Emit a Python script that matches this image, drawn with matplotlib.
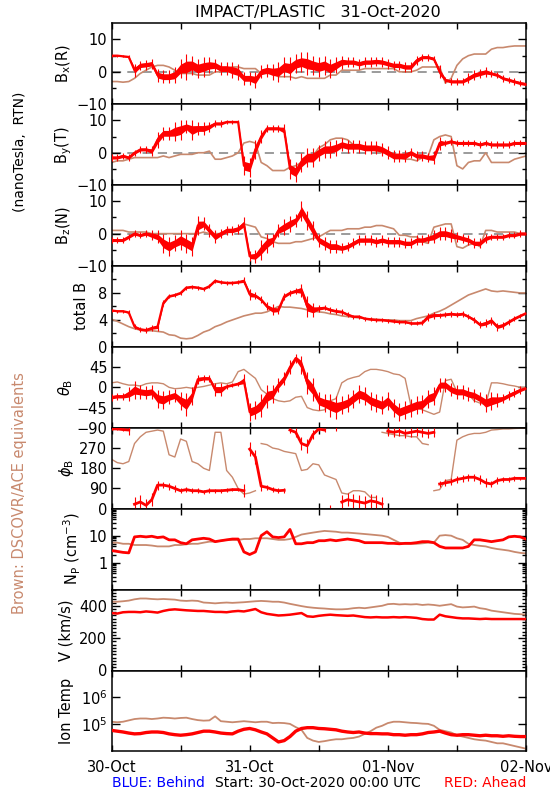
import numpy as np
import matplotlib
matplotlib.use('Agg')
import matplotlib.pyplot as plt
from matplotlib.ticker import FixedLocator, MultipleLocator, LogLocator, NullFormatter, NullLocator

# ---------------- data (hourly, hours since 30-Oct-2020 00:00 UTC) ----------------
hours = np.arange(73)

bx_red = [5.0, 5.0, 4.8, 4.6, 0.5, 2.0, 2.2, 2.5, -1.0, -1.5, -1.5, -1.0, 1.0, 1.5, 2.0, 1.0, 1.5, 2.0, 2.0, 1.0,
          1.0, 0.5, 0.0, -2.0, -2.0, -2.5, 0.0, 0.5, 0.0, 0.0, 1.5, 1.0, 2.5, 3.0, 2.5, 2.0, 1.5, 2.0, 1.0, 2.0,
          3.0, 3.0, 3.0, 2.5, 3.0, 3.0, 3.2, 3.0, 2.5, 2.0, 2.0, 1.5, 1.5, 3.5, 4.5, 4.5, 4.0, 0.0, -2.5, -3.0,
          -3.0, -3.0, -2.0, -1.0, -0.5, 0.0, -0.5, -1.0, -2.0, -2.5, -3.0, -3.5, -3.8]
bx_red_spread = [0.3, 0.3, 0.3, 0.5, 2, 1.5, 1.5, 1.5, 2, 2, 2, 2.5, 3, 4, 3, 3, 3, 2.5, 2, 2,
                 2, 2.5, 2.5, 2, 2, 2.5, 2, 2, 2.5, 3, 3, 3.5, 3, 3, 3.5, 3, 3, 3, 3, 2.5,
                 2, 1.5, 1.5, 1.5, 1.5, 1.5, 1.5, 1.5, 1.5, 1.5, 1.5, 1.5, 1.5, 1.5, 1, 1, 1, 2, 1, 1,
                 1, 1, 1.5, 1.5, 1.5, 1.5, 1, 1, 1, 1, 1, 1, 1]
bx_brown = [-3, -3, -3.2, -3, -2, -0.5, 0.5, 1.5, 2, 2, 1.5, 0.5, -0.5, -0.5, -0.5, -1, -1, -1, 0, 0,
            1, 1.5, 1.5, 1, 1, 1, -0.5, -0.5, -0.5, -1.5, -1.5, -1.5, -2, -1.5, -2, -2, -2, -2, -1, -1,
            0.5, 0.5, 0.5, 0.5, 1, 1, 1, 1, 1, 1, 0, 0, 0, 0.5, 1.5, 1.5, 1.5, 1.5, -3.5, -2,
            2, 4, 5, 5.5, 5.5, 5.5, 7, 7.5, 7.5, 7.8, 8, 8, 8]

by_red = [-1.5, -1.5, -1.0, -1.5, 0, 1, 1, 0.5, 4, 6, 6, 6.5, 7, 8, 7, 7.5, 7.5, 8, 9, 9,
          9.5, 9.5, 9.5, -4, -4.5, 1, 5, 7.5, 7.5, 7.5, 7, -5, -6, -3, -1.5, -1.5, 0, 1, 1, 1.5,
          2.5, 2, 2, 2, 1.5, 1.5, 1.5, 1, 0, -1, -1, -1, 0, -1, -1, -1.5, -1.5, 3, 3, 3.5,
          3, 3, 3, 3, 2.5, 3, 2.5, 2.5, 2.5, 2.5, 3, 3, 3]
by_red_spread = [1, 1, 1, 1, 1, 1, 1, 1.5, 2.5, 2, 2, 3, 3, 2, 3, 2, 2, 1.5, 1, 1,
                 0.5, 0.5, 0.5, 3, 3, 3, 2, 1, 1, 1, 2, 3, 3, 3, 3, 3, 2.5, 2.5, 2.5, 2.5,
                 2, 2, 2, 2, 2, 2, 2, 2, 2, 2, 2, 2, 1.5, 1.5, 1.5, 1.5, 2, 2, 1, 1,
                 1, 1, 1, 1, 1, 1, 1, 1, 1, 1, 1, 1, 1]
by_brown = [-3, -2.5, -2.5, -2, -1.5, -1.5, -1.5, -1.5, -1.5, -1, -1.5, -1, -0.5, -0.5, -0.5, 0, 0, 0.5, -2, -2,
            -1.5, -1, 0, 3, 3.5, 3, -3, -4, -5.5, -5.5, -5.5, -4.5, -4, -3, -1.5, -1, 1.5, 2.5, 4, 4.5,
            4.5, 4, 2.5, 2, 2, 1.5, 0.5, 0, 0, -0.5, -1.5, -2, -2, -2.5, -1.5, -1, 4, 5, 5.5, 5,
            -4, -5, -3, -2.5, -2.5, 0, -3, -3, -3, -3, -2, -1.5, -1]

bz_red = [-2, -2, -2, -1, 0, -0.5, 0, -0.5, -1, -3, -4, -3, -2, -3, -4, 2.5, 3, 1, -1, 0,
          1, 1, 1.5, 3, -7, -7, -5, -3, -2, 1, 2, 3, 4, 7, 4, 1, -2, -3, -4, -4,
          -4.5, -4, -3, -2, -2, -2, -2.5, -2, -2.5, -2.5, -2.5, -3, -3, -2, -2, -1.5, -1, 0, 0, -0.5,
          -1, -1.5, -2, -3, -3, -1.5, -1, -1, -1, -0.5, -0.5, 0, 0]
bz_red_spread = [1, 1, 1, 1, 1, 1, 1, 1.5, 2, 3, 3, 2.5, 3, 3, 3, 3, 2, 2, 2, 1.5,
                 1.5, 1.5, 1.5, 2, 1.5, 2, 3, 3, 2, 2, 2.5, 2.5, 2, 3, 3, 3, 2, 2, 2, 2,
                 1.5, 1.5, 1.5, 1.5, 1.5, 1.5, 1.5, 1.5, 1.5, 1.5, 1.5, 1.5, 1.5, 1.5, 1.5, 1.5, 2, 2, 2, 2,
                 1.5, 1.5, 1.5, 1.5, 1.5, 1.5, 1, 1, 1, 1, 1, 1, 1]
bz_brown = [1, 1, 1, 0.5, 0.5, 0.5, 0.5, 0, 0, 0, 0, 0, 0, 0, 0, 0, 0.5, 0, 0, 0,
            0.5, 0.5, 1, 3, 2.5, 2, -1, -1.5, -2.5, -3, -3, -3, -2.5, -2.5, -2, -1.5, -1, 0, 1, 1,
            1, 1.5, 1.5, 1.5, 2, 2, 2.5, 2.5, 2, 1.5, -0.5, -0.5, -1, -1, -2.5, -3, 2, 2.5, 3, 3,
            -4, -4.5, -3.5, -3, -4, 1, 1, 0.5, 0.5, 0.5, 0.5, 0, 0]

bt_red = [5.4, 5.3, 5.3, 5.1, 3.0, 2.6, 2.5, 2.8, 3.0, 6.5, 7.5, 7.7, 8.0, 8.8, 8.9, 8.8, 8.6, 9.0, 9.8, 9.6,
          9.5, 9.5, 9.6, 9.8, 7.8, 7.6, 7.0, 6.0, 5.5, 5.5, 7.5, 8.0, 8.3, 8.4, 6.0, 5.5, 5.7, 5.8, 5.5, 5.3,
          5.2, 4.8, 4.5, 4.5, 4.2, 4.1, 4.0, 4.0, 3.9, 3.8, 3.7, 3.7, 3.5, 3.5, 3.6, 4.5, 4.7, 4.7, 4.8, 4.9,
          4.8, 4.9, 4.5, 4.0, 3.3, 3.5, 3.9, 3.0, 3.2, 3.7, 4.2, 4.6, 5.0]
bt_red_spread = [0.2, 0.2, 0.2, 0.3, 0.4, 0.4, 0.4, 0.4, 0.6, 0.4, 0.3, 0.3, 0.3, 0.3, 0.3, 0.3, 0.3, 0.3, 0.3, 0.3,
                 0.3, 0.3, 0.3, 0.5, 0.8, 0.5, 0.5, 0.6, 0.8, 0.6, 0.5, 0.4, 0.5, 1.0, 1.5, 1.0, 0.5, 0.4, 0.4, 0.4,
                 0.4, 0.4, 0.3, 0.3, 0.3, 0.3, 0.3, 0.3, 0.3, 0.3, 0.3, 0.3, 0.3, 0.3, 0.4, 0.6, 0.5, 0.4, 0.4, 0.4,
                 0.4, 0.4, 0.4, 0.5, 0.5, 0.6, 0.6, 0.6, 0.5, 0.4, 0.4, 0.3, 0.3]
bt_brown = [4.1, 3.8, 3.4, 3.0, 2.7, 2.5, 2.4, 2.4, 2.3, 2.2, 1.8, 1.7, 1.3, 1.2, 1.3, 1.7, 2.2, 2.5, 3.0, 3.3,
            3.7, 4.0, 4.3, 4.6, 4.8, 5.0, 5.0, 5.2, 5.6, 6.0, 5.9, 5.9, 5.8, 5.7, 5.5, 5.3, 5.2, 5.1, 4.9, 4.8,
            4.6, 4.5, 4.4, 4.3, 4.2, 4.1, 4.1, 4.0, 4.0, 4.0, 3.9, 3.9, 3.9, 4.2, 4.4, 4.6, 5.0, 5.3, 5.7, 6.2,
            6.7, 7.2, 7.7, 8.0, 8.3, 8.6, 8.3, 8.2, 8.3, 8.2, 8.1, 8.0, 8.0]

theta_red = [-22, -20, -20, -15, -6, -10, -12, -10, -25, -28, -22, -18, -30, -38, -20, 18, 20, 20, -5, -5,
             2, 5, 8, 15, -55, -50, -40, -20, -15, 5, 20, 45, 65, 50, 10, -5, -30, -35, -40, -45,
             -40, -35, -25, -15, -20, -30, -35, -40, -30, -45, -55, -50, -45, -40, -38, -25, -20, 5, 5, -5,
             -10, -10, -15, -18, -25, -35, -30, -28, -25, -18, -12, -6, -2]
theta_red_spread = [8, 8, 8, 15, 20, 15, 15, 15, 20, 20, 15, 15, 20, 25, 20, 10, 8, 8, 15, 15,
                    5, 5, 5, 15, 20, 20, 25, 25, 20, 15, 15, 15, 10, 20, 25, 25, 20, 20, 25, 25,
                    20, 20, 20, 20, 20, 20, 20, 20, 20, 20, 20, 20, 20, 20, 20, 20, 20, 15, 15, 15,
                    15, 15, 15, 15, 15, 20, 20, 15, 10, 10, 10, 8, 5]
theta_brown = [10, 12, 8, 5, 5, 3, 8, 10, 10, 8, 0, -3, -2, 0, -2, 0, 2, 5, 8, 10,
               8, 12, 35, 40, 30, 20, -5, -15, -25, -30, -32, -30, -22, -20, -45, -50, -52, -50, -30, -25,
               10, 18, 22, 25, 35, 40, 40, 38, 35, 30, 28, 20, -40, -45, -50, -55, -60, -55, 15, 18,
               -10, -15, -15, -30, -35, -38, 10, 10, 8, 5, 3, 0, 0]

phi_red = [355, 355, 352, 350, 20, 30, 15, 40, 105, 105, 100, 90, 80, 85, 80, 80, 75, 80, 80, 80,
           82, 85, 85, 80, 265, 230, 100, 95, 85, 80, 82, 350, 340, 290, 280, 330, 355, 350, 5, 355,
           30, 40, 35, 30, 25, 35, 30, 20, 345, 340, 345, 335, 340, 345, 340, 335, 340, 110, 115, 120,
           130, 135, 140, 140, 130, 115, 110, 125, 130, 130, 135, 135, 135]
phi_red_spread = [5, 5, 8, 20, 30, 30, 30, 30, 20, 15, 15, 15, 12, 12, 12, 10, 10, 10, 8, 8,
                  8, 8, 8, 30, 30, 30, 20, 12, 10, 10, 10, 15, 20, 30, 30, 20, 10, 10, 10, 10,
                  30, 30, 30, 30, 30, 30, 30, 30, 20, 20, 20, 20, 20, 20, 20, 20, 20, 15, 15, 15,
                  15, 15, 15, 15, 20, 20, 15, 15, 10, 10, 10, 8, 8]
phi_brown = [220, 205, 200, 210, 290, 320, 340, 345, 350, 345, 240, 230, 310, 300, 210, 200, 180, 170, 340, 340,
             170, 140, 90, 65, 70, 80, 290, 285, 270, 265, 255, 250, 245, 170, 175, 200, 195, 150, 140, 130,
             70, 65, 80, 80, 75, 50, 50, 340, 335, 330, 325, 325, 320, 320, 290, 285, 80, 85, 125, 130,
             305, 320, 330, 335, 335, 340, 350, 352, 355, 355, 357, 358, 358]

np_red = [2.8, 2.6, 2.4, 2.3, 9.0, 9.5, 9.0, 9.5, 8.5, 9.0, 7.0, 7.0, 5.5, 5.0, 7.0, 7.5, 8.0, 7.5, 6.0, 6.5,
          7.0, 7.5, 7.5, 2.5, 2.0, 2.5, 10, 14, 9, 8.5, 9, 17, 5.0, 5.0, 5.5, 5.5, 6.5, 6.5, 7.0, 6.5,
          7.0, 7.5, 7.0, 6.5, 5.5, 5.5, 5.5, 5.5, 5.2, 5.2, 5.0, 5.2, 5.2, 5.5, 6.0, 6.0, 5.5, 4.0, 3.5, 3.5,
          3.5, 3.5, 4.0, 7.0, 7.0, 6.5, 6.0, 6.5, 7.0, 9.0, 9.5, 9.0, 7.5]
np_brown = [5.5, 5.5, 5.0, 5.0, 4.5, 4.5, 4.5, 4.3, 4.0, 4.0, 4.0, 4.5, 4.5, 4.8, 5.0, 5.0, 5.5, 6.0, 6.0, 6.5,
            7.0, 7.0, 7.0, 7.5, 7.5, 8.0, 8.0, 8.0, 7.5, 7.0, 7.0, 7.5, 9.0, 11, 12, 13, 14, 15, 14.5, 14,
            13, 13, 12.5, 12, 11.5, 11, 10.5, 10, 9, 7, 5.5, 5.0, 5.0, 5.0, 5.2, 5.5, 5.5, 10, 10.5, 10,
            8, 7, 5, 4.5, 4.2, 4.0, 3.5, 3.2, 3.0, 2.8, 2.5, 2.3, 2.2]

v_red = [355, 352, 360, 362, 362, 360, 365, 362, 358, 368, 375, 378, 375, 372, 370, 368, 368, 365, 362, 362,
         360, 365, 368, 365, 372, 380, 360, 350, 345, 340, 342, 345, 350, 355, 335, 332, 338, 342, 345, 342,
         340, 338, 340, 335, 330, 328, 330, 328, 328, 330, 328, 330, 328, 325, 318, 315, 315, 345, 335, 330,
         325, 322, 322, 320, 318, 320, 318, 318, 318, 318, 318, 318, 318]
v_brown = [425, 425, 428, 432, 440, 445, 445, 442, 440, 442, 440, 438, 432, 430, 432, 430, 420, 418, 415, 418,
           420, 418, 420, 422, 425, 428, 430, 428, 425, 425, 420, 412, 405, 398, 392, 388, 385, 383, 380, 378,
           378, 380, 385, 388, 385, 390, 395, 400, 410, 412, 408, 410, 408, 410, 405, 408, 405, 400, 405, 410,
           395, 390, 392, 395, 385, 380, 370, 365, 360, 355, 350, 348, 345]

logT_red = [4.78, 4.75, 4.72, 4.68, 4.65, 4.66, 4.70, 4.72, 4.72, 4.70, 4.65, 4.62, 4.60, 4.62, 4.65, 4.70, 4.75, 4.75, 4.72, 4.68,
            4.66, 4.65, 4.75, 4.82, 4.85, 4.80, 4.72, 4.65, 4.50, 4.35, 4.40, 4.55, 4.75, 4.85, 4.88, 4.88, 4.85, 4.84, 4.82, 4.80,
            4.75, 4.72, 4.70, 4.72, 4.68, 4.66, 4.66, 4.65, 4.65, 4.62, 4.62, 4.60, 4.62, 4.62, 4.65, 4.70, 4.72, 4.75, 4.68, 4.62,
            4.60, 4.62, 4.62, 4.60, 4.58, 4.60, 4.58, 4.58, 4.56, 4.58, 4.56, 4.55, 4.55]
logT_brown = [5.10, 5.08, 5.10, 5.15, 5.20, 5.22, 5.22, 5.20, 5.22, 5.25, 5.24, 5.22, 5.24, 5.25, 5.20, 5.16, 5.14, 5.15, 5.30, 5.12,
              5.10, 5.08, 5.10, 5.12, 5.10, 5.08, 5.10, 5.10, 5.05, 5.06, 5.05, 5.02, 4.90, 4.80, 4.50, 4.40, 4.35, 4.38, 4.42, 4.45,
              4.45, 4.48, 4.50, 4.55, 4.65, 4.75, 4.88, 4.95, 5.05, 5.10, 5.10, 5.08, 5.06, 5.05, 5.03, 5.02, 4.95, 4.80, 4.75, 4.70,
              4.60, 4.55, 4.50, 4.45, 4.42, 4.40, 4.35, 4.30, 4.30, 4.25, 4.20, 4.15, 4.10]

date_labels = ['30-Oct', '', '31-Oct', '', '01-Nov', '', '02-Nov']

# ---------------- styling ----------------
RED = '#FF0000'
BROWN = '#C8896E'
plt.rcParams['font.family'] = ['DejaVu Sans']
plt.rcParams['mathtext.fontset'] = 'dejavusans'

W, H = 550, 800
fig = plt.figure(figsize=(5.5, 8), dpi=100)
left_px, right_px = 111.5, 526.0
top_px, panel_px = 23.3, 80.9


def wrap_break(t, y):
    tt, yy = [t[0]], [y[0]]
    for i in range(1, len(y)):
        if abs(y[i] - y[i - 1]) > 180:
            tt.append(np.nan)
            yy.append(np.nan)
        tt.append(t[i])
        yy.append(y[i])
    return np.array(tt, float), np.array(yy, float)


def red_band(ax, x, center, spread):
    c = np.asarray(center, float)
    s = np.asarray(spread, float)
    ax.fill_between(x, c - 0.45 * s, c + 0.45 * s, color=RED, lw=0, zorder=3)
    ax.vlines(x, c - s, c + s, color=RED, lw=0.8, zorder=3)
    ax.plot(x, c, color=RED, lw=1.6, zorder=3)


axes = []
for i in range(9):
    b = 1 - (top_px + (i + 1) * panel_px) / H
    ax = fig.add_axes([left_px / W, b, (right_px - left_px) / W, panel_px / H])
    ax.set_xlim(0, 72)
    ax.set_xticks(np.arange(0, 73, 12))
    ax.tick_params(axis='x', which='both', direction='in', top=True, bottom=True, length=4.5, width=1,
                   labelbottom=False)
    ax.tick_params(axis='y', which='major', direction='in', left=True, right=True, length=6, width=1,
                   labelsize=10.5, pad=3)
    ax.tick_params(axis='y', which='minor', direction='in', left=True, right=True, length=3, width=1)
    for s in ax.spines.values():
        s.set_linewidth(1.1)
    axes.append(ax)

h = np.asarray(hours, float)

# B components
for ax, red, spread, brown in [(axes[0], bx_red, bx_red_spread, bx_brown),
                               (axes[1], by_red, by_red_spread, by_brown),
                               (axes[2], bz_red, bz_red_spread, bz_brown)]:
    ax.set_ylim(-10, 15)
    ax.yaxis.set_major_locator(FixedLocator([-10, 0, 10]))
    ax.yaxis.set_minor_locator(FixedLocator([-5, 5]))
    ax.axhline(0, color='#808080', lw=1.1, ls=(0, (6, 4)), zorder=1)
    ax.plot(h, brown, color=BROWN, lw=1.2, zorder=2)
    red_band(ax, h, red, spread)

# total B
ax = axes[3]
ax.set_ylim(0, 12)
ax.yaxis.set_major_locator(FixedLocator([0, 4, 8]))
ax.yaxis.set_minor_locator(FixedLocator([2, 6, 10]))
ax.plot(h, bt_brown, color=BROWN, lw=1.2, zorder=2)
red_band(ax, h, bt_red, bt_red_spread)

# theta
ax = axes[4]
ax.set_ylim(-90, 90)
ax.yaxis.set_major_locator(FixedLocator([-90, -45, 0, 45]))
ax.yaxis.set_minor_locator(NullLocator())
ax.plot(h, theta_brown, color=BROWN, lw=1.0, zorder=2)
red_band(ax, h, theta_red, theta_red_spread)

# phi
ax = axes[5]
ax.set_ylim(0, 360)
ax.yaxis.set_major_locator(FixedLocator([0, 90, 180, 270]))
ax.yaxis.set_minor_locator(NullLocator())
tb, pb = wrap_break(h, phi_brown)
ax.plot(tb, pb, color=BROWN, lw=1.0, zorder=2)
pr_c = np.asarray(phi_red, float)
pr_s = np.asarray(phi_red_spread, float)
ax.vlines(h, pr_c - pr_s, pr_c + pr_s, color=RED, lw=0.8, zorder=3)
tr, pr = wrap_break(h, phi_red)
ax.plot(tr, pr, color=RED, lw=2.0, zorder=3)

# Np
ax = axes[6]
ax.set_yscale('log')
ax.set_ylim(0.1, 100)
ax.yaxis.set_major_locator(FixedLocator([1, 10]))
ax.set_yticklabels(['1', '10'])
ax.yaxis.set_minor_locator(LogLocator(base=10, subs=np.arange(2, 10), numticks=20))
ax.yaxis.set_minor_formatter(NullFormatter())
ax.plot(h, np_brown, color=BROWN, lw=1.3, zorder=2)
ax.plot(h, np_red, color=RED, lw=2.0, zorder=3)

# V
ax = axes[7]
ax.set_ylim(0, 500)
ax.yaxis.set_major_locator(FixedLocator([0, 200, 400]))
ax.yaxis.set_minor_locator(MultipleLocator(20))
ax.plot(h, v_brown, color=BROWN, lw=1.3, zorder=2)
ax.plot(h, v_red, color=RED, lw=1.8, zorder=3)

# Ion temperature
ax = axes[8]
ax.set_yscale('log')
ax.set_ylim(1e4, 1e7)
ax.yaxis.set_major_locator(FixedLocator([1e5, 1e6]))
ax.set_yticklabels([r'10$^5$', r'10$^6$'])
ax.yaxis.set_minor_locator(NullLocator())
ax.plot(h, 10 ** np.asarray(logT_brown), color=BROWN, lw=1.3, zorder=2)
ax.plot(h, 10 ** np.asarray(logT_red), color=RED, lw=2.4, zorder=3)
ax.tick_params(axis='x', labelbottom=True, labelsize=10.5, pad=6)
ax.set_xticklabels(date_labels)

# y labels
ylabels = [r'B$_\mathregular{x}$(R)', r'B$_\mathregular{y}$(T)', r'B$_\mathregular{z}$(N)', 'total B',
           r'$\theta_\mathregular{B}$', r'$\phi_\mathregular{B}$', r'N$_\mathregular{P}$ (cm$^{-3}$)',
           'V (km/s)', 'Ion Temp']
ylabel_x = [64, 64, 64, 82, 66, 66, 72, 66, 67]
for i, (lab, xp) in enumerate(zip(ylabels, ylabel_x)):
    yc = top_px + (i + 0.5) * panel_px
    fig.text(xp / W, 1 - yc / H, lab, rotation=90, ha='center', va='center', fontsize=10.5)

fig.text(318 / W, 1 - 12 / H, 'IMPACT/PLASTIC   31-Oct-2020', ha='center', va='center', fontsize=11.5)
fig.text(20 / W, 1 - 152 / H, '(nanoTesla,  RTN)', rotation=90, ha='center', va='center', fontsize=10)
fig.text(20 / W, 1 - 493 / H, 'Brown: DSCOVR/ACE equivalents', rotation=90, ha='center', va='center',
         fontsize=10.5, color=BROWN)
fig.text(left_px / W, 1 - 783 / H, 'BLUE: Behind', ha='left', va='center', fontsize=10, color='#0000FF')
fig.text(318 / W, 1 - 783 / H, 'Start: 30-Oct-2020 00:00 UTC', ha='center', va='center', fontsize=10)
fig.text(right_px / W, 1 - 783 / H, 'RED: Ahead', ha='right', va='center', fontsize=10, color=RED)

fig.savefig('out.png', dpi=100)
